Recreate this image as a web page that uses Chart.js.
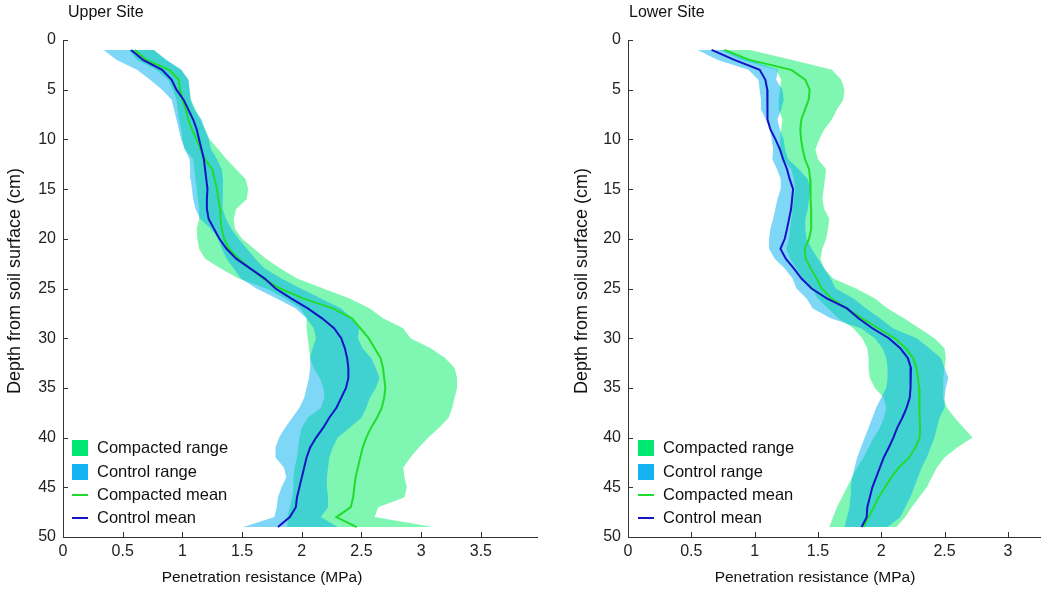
<!DOCTYPE html>
<html>
<head>
<meta charset="utf-8">
<script src="https://cdn.jsdelivr.net/npm/chart.js@4.4.0/dist/chart.umd.min.js"></script>
<style>
  body { margin: 0; background: #fff; }
  #wrap { position: relative; width: 1047px; height: 591px; }
  canvas { position: absolute; top: 0; }
  #upper { left: 0; }
  #lower { left: 540px; }
</style>
</head>
<body>
<div id="wrap">
  <canvas id="upper" width="540" height="591"></canvas>
  <canvas id="lower" width="507" height="591"></canvas>
</div>
<script>
// depth below surface (cm), one reading per cm
const depth = [1,2,3,4,5,6,7,8,9,10,11,12,13,14,15,16,17,18,19,20,21,22,23,24,25,
  26,27,28,29,30,31,32,33,34,35,36,37,38,39,40,41,42,43,44,45,46,47,48,49];
const depthTicks = [0,5,10,15,20,25,30,35,40,45,50];
const upperXTicks = [0,0.5,1,1.5,2,2.5,3,3.5];
const lowerXTicks = [0,0.5,1,1.5,2,2.5,3];

// Upper site (MPa)
const upperCompMin = [0.55,0.62,0.78,0.88,0.92,0.95,0.96,0.97,0.99,1.00,
  1.02,1.09,1.10,1.11,1.12,1.13,1.14,1.14,1.12,1.125,
  1.14,1.19,1.32,1.47,1.70,1.86,1.99,2.04,2.04,2.05,
  2.06,2.07,2.10,2.15,2.18,2.19,2.16,2.05,2.00,1.98,
  1.97,1.96,1.94,1.93,1.93,1.92,1.90,1.88,1.88];
const upperCompMax = [0.76,0.86,0.99,1.05,1.06,1.07,1.11,1.15,1.19,1.23,
  1.30,1.37,1.45,1.53,1.55,1.54,1.45,1.43,1.44,1.50,
  1.60,1.70,1.82,1.96,2.18,2.40,2.57,2.68,2.85,2.91,
  3.08,3.20,3.28,3.30,3.30,3.28,3.26,3.23,3.15,3.06,
  2.98,2.91,2.85,2.86,2.88,2.86,2.64,2.61,3.10];
const upperCtrlMin = [0.34,0.45,0.62,0.73,0.83,0.91,0.93,0.95,0.97,0.99,
  1.02,1.06,1.065,1.07,1.08,1.09,1.11,1.15,1.24,1.30,
  1.33,1.37,1.43,1.49,1.62,1.79,1.95,2.04,2.10,2.12,
  2.09,2.07,2.07,2.06,2.04,2.02,1.98,1.92,1.86,1.81,
  1.78,1.78,1.85,1.87,1.83,1.80,1.79,1.77,1.51];
const upperCtrlMax = [0.76,0.87,0.99,1.05,1.06,1.07,1.10,1.16,1.19,1.22,
  1.24,1.29,1.33,1.34,1.335,1.335,1.34,1.365,1.41,1.47,
  1.54,1.61,1.69,1.83,1.99,2.16,2.33,2.42,2.48,2.47,
  2.51,2.58,2.62,2.65,2.62,2.57,2.54,2.50,2.40,2.30,
  2.26,2.23,2.22,2.21,2.21,2.22,2.22,2.16,2.30];
const upperCompMean = [0.60,0.70,0.89,0.97,0.98,1.00,1.03,1.05,1.08,1.12,
  1.15,1.19,1.25,1.27,1.29,1.30,1.315,1.32,1.33,1.35,
  1.39,1.47,1.57,1.68,1.82,2.01,2.26,2.42,2.49,2.56,
  2.61,2.66,2.68,2.69,2.70,2.69,2.67,2.63,2.58,2.54,
  2.51,2.49,2.47,2.45,2.44,2.43,2.41,2.29,2.46];
const upperCtrlMean = [0.57,0.67,0.83,0.91,0.95,1.01,1.05,1.09,1.12,1.14,
  1.16,1.18,1.19,1.20,1.21,1.205,1.205,1.22,1.265,1.31,
  1.37,1.45,1.57,1.69,1.78,1.91,2.05,2.17,2.27,2.33,
  2.36,2.38,2.39,2.39,2.37,2.33,2.29,2.23,2.18,2.12,
  2.07,2.04,2.02,2.00,1.98,1.96,1.95,1.90,1.80];

// Lower site (MPa)
const lowerCompMin = [0.73,0.90,1.17,1.21,1.20,1.19,1.19,1.22,1.21,1.20,
  1.20,1.22,1.29,1.31,1.32,1.31,1.30,1.29,1.28,1.27,
  1.25,1.28,1.33,1.38,1.45,1.50,1.58,1.66,1.78,1.85,
  1.89,1.90,1.90,1.91,1.95,2.02,2.04,2.02,1.99,1.94,
  1.90,1.86,1.81,1.77,1.73,1.69,1.65,1.62,1.59];
const lowerCompMax = [0.96,1.30,1.61,1.685,1.71,1.70,1.65,1.61,1.55,1.51,
  1.48,1.50,1.565,1.555,1.545,1.535,1.55,1.59,1.58,1.565,
  1.535,1.52,1.55,1.62,1.80,1.95,2.05,2.18,2.30,2.42,
  2.50,2.51,2.50,2.49,2.49,2.49,2.52,2.58,2.65,2.72,
  2.60,2.50,2.44,2.40,2.36,2.30,2.24,2.19,2.12];
const lowerCtrlMin = [0.55,0.71,0.95,1.03,1.04,1.05,1.05,1.09,1.12,1.135,
  1.146,1.14,1.177,1.206,1.206,1.18,1.164,1.146,1.125,1.114,
  1.114,1.159,1.238,1.30,1.33,1.41,1.46,1.60,1.84,1.95,
  2.01,2.04,2.05,2.05,2.04,2.00,1.96,1.93,1.90,1.87,
  1.84,1.81,1.79,1.77,1.76,1.755,1.75,1.73,1.71];
const lowerCtrlMax = [0.75,0.96,1.185,1.17,1.22,1.23,1.21,1.18,1.20,1.23,
  1.24,1.264,1.35,1.42,1.44,1.43,1.42,1.40,1.40,1.41,
  1.45,1.50,1.55,1.60,1.64,1.78,1.88,1.99,2.09,2.28,
  2.38,2.47,2.50,2.53,2.51,2.50,2.50,2.46,2.44,2.42,
  2.39,2.36,2.32,2.29,2.26,2.23,2.19,2.15,2.05];
const lowerCompMean = [0.76,0.96,1.29,1.40,1.435,1.427,1.398,1.369,1.361,1.367,
  1.38,1.398,1.43,1.438,1.441,1.443,1.446,1.448,1.446,1.43,
  1.396,1.404,1.443,1.49,1.53,1.606,1.725,1.85,1.975,2.107,
  2.193,2.252,2.278,2.291,2.299,2.304,2.304,2.30,2.307,2.304,
  2.27,2.22,2.14,2.08,2.03,1.98,1.94,1.90,1.86];
const lowerCtrlMean = [0.66,0.84,1.04,1.085,1.10,1.10,1.10,1.105,1.125,1.165,
  1.20,1.225,1.256,1.277,1.304,1.296,1.288,1.272,1.256,1.238,
  1.204,1.246,1.311,1.37,1.45,1.57,1.73,1.82,1.93,2.06,
  2.15,2.21,2.235,2.233,2.23,2.225,2.20,2.167,2.127,2.096,
  2.06,2.02,1.99,1.96,1.93,1.91,1.89,1.885,1.845];

const legendLabels = ['Compacted range', 'Control range', 'Compacted mean', 'Control mean'];
const FONT = "'Liberation Sans', Arial, Helvetica, sans-serif";
Chart.defaults.font.family = FONT;
Chart.defaults.color = '#222';

// inward ticks, panel title, axis titles and legend
const decoPlugin = {
  id: 'deco',
  afterDraw(chart, args, opts) {
    const ctx = chart.ctx;
    const xs = chart.scales.x, ys = chart.scales.y;
    ctx.save();
    ctx.strokeStyle = '#333';
    ctx.lineWidth = 1;
    ctx.beginPath();
    xs.ticks.forEach(t => {
      const px = Math.round(xs.getPixelForValue(t.value)) + 0.5;
      ctx.moveTo(px, xs.top);
      ctx.lineTo(px, xs.top - 5);
    });
    ys.ticks.forEach(t => {
      const py = Math.round(ys.getPixelForValue(t.value)) + 0.5;
      ctx.moveTo(ys.right, py);
      ctx.lineTo(ys.right + 5, py);
    });
    ctx.stroke();

    ctx.fillStyle = '#111';
    ctx.textBaseline = 'middle';
    ctx.textAlign = 'left';
    ctx.font = '16px ' + FONT;
    ctx.fillText(opts.title, opts.titleX, 13);

    ctx.font = '15.5px ' + FONT;
    ctx.textAlign = 'center';
    ctx.fillText('Penetration resistance (MPa)', opts.xTitleX, 578);

    ctx.save();
    ctx.translate(opts.yTitleX, 281);
    ctx.rotate(-Math.PI / 2);
    ctx.font = '18px ' + FONT;
    ctx.fillText('Depth from soil surface (cm)', 0, 0);
    ctx.restore();

    // legend
    const rows = [448, 472, 495, 518];
    const lx = opts.legendX;
    ctx.fillStyle = 'rgb(0,232,112)';
    ctx.fillRect(lx, rows[0] - 8, 16, 16);
    ctx.fillStyle = 'rgb(22,178,240)';
    ctx.fillRect(lx, rows[1] - 8, 16, 16);
    ctx.lineWidth = 2;
    ctx.strokeStyle = '#22dc2c';
    ctx.beginPath(); ctx.moveTo(lx, rows[2]); ctx.lineTo(lx + 16, rows[2]); ctx.stroke();
    ctx.strokeStyle = '#1414c4';
    ctx.beginPath(); ctx.moveTo(lx, rows[3]); ctx.lineTo(lx + 16, rows[3]); ctx.stroke();
    ctx.fillStyle = '#111';
    ctx.textAlign = 'left';
    ctx.font = '16.5px ' + FONT;
    legendLabels.forEach((lab, i) => ctx.fillText(lab, lx + 25, rows[i]));
    ctx.restore();
  }
};

function getChart(id, s, o) {
  const pts = arr => arr.map((v, i) => ({x: v, y: depth[i]}));
  const edge = (arr, fill, color, order) => ({
    data: pts(arr), borderColor: 'transparent', borderWidth: 0, pointRadius: 0,
    fill: fill, backgroundColor: color, order: order
  });
  return new Chart(document.getElementById(id), {
    type: 'line',
    data: {
      datasets: [
        edge(s.compMin, false, 'transparent', 3),
        edge(s.compMax, 0, 'rgba(0,238,102,0.5)', 3),
        edge(s.ctrlMin, false, 'transparent', 2),
        edge(s.ctrlMax, 2, 'rgba(0,176,240,0.5)', 2),
        {data: pts(s.compMean), borderColor: '#22dc2c', borderWidth: 2, pointRadius: 0, fill: false, order: 1},
        {data: pts(s.ctrlMean), borderColor: '#1414c4', borderWidth: 2, pointRadius: 0, fill: false, order: 0}
      ]
    },
    options: {
      indexAxis: 'y',
      responsive: false,
      animation: false,
      events: [],
      layout: {padding: {left: o.padLeft, right: o.padRight, top: 40, bottom: 0}},
      elements: {line: {tension: 0}},
      scales: {
        x: {
          type: 'linear', min: 0, max: o.xMax,
          grid: {display: false, drawTicks: false},
          border: {display: true, color: '#333'},
          afterBuildTicks: sc => { sc.ticks = o.xTicks.map(v => ({value: v})); },
          afterFit: sc => { sc.height = 54; },
          ticks: {padding: 5, font: {size: 16}, color: '#222', maxRotation: 0, autoSkip: false,
                  callback: v => String(v)}
        },
        y: {
          type: 'linear', reverse: true, min: 0, max: 50,
          grid: {display: false, drawTicks: false},
          border: {display: true, color: '#333'},
          afterBuildTicks: sc => { sc.ticks = depthTicks.map(v => ({value: v})); },
          afterFit: sc => { sc.width = o.yWidth; },
          ticks: {padding: 7, font: {size: 16}, color: '#222', autoSkip: false, callback: v => String(v)}
        }
      },
      plugins: {
        legend: {display: false},
        tooltip: {enabled: false},
        deco: {title: o.title, titleX: o.titleX, xTitleX: o.xTitleX, yTitleX: o.yTitleX, legendX: o.legendX}
      }
    },
    plugins: [decoPlugin]
  });
}

getChart('upper', {
  compMin: upperCompMin, compMax: upperCompMax, ctrlMin: upperCtrlMin, ctrlMax: upperCtrlMax,
  compMean: upperCompMean, ctrlMean: upperCtrlMean
}, {
  xMax: 3.97, xTicks: upperXTicks, padLeft: 2, padRight: 3, yWidth: 61,
  title: 'Upper Site', titleX: 68, xTitleX: 262, yTitleX: 15, legendX: 72
});

getChart('lower', {
  compMin: lowerCompMin, compMax: lowerCompMax, ctrlMin: lowerCtrlMin, ctrlMax: lowerCtrlMax,
  compMean: lowerCompMean, ctrlMean: lowerCtrlMean
}, {
  xMax: 3.254, xTicks: lowerXTicks, padLeft: 30, padRight: 7, yWidth: 58,
  title: 'Lower Site', titleX: 89, xTitleX: 275, yTitleX: 42, legendX: 98
});
</script>
</body>
</html>
